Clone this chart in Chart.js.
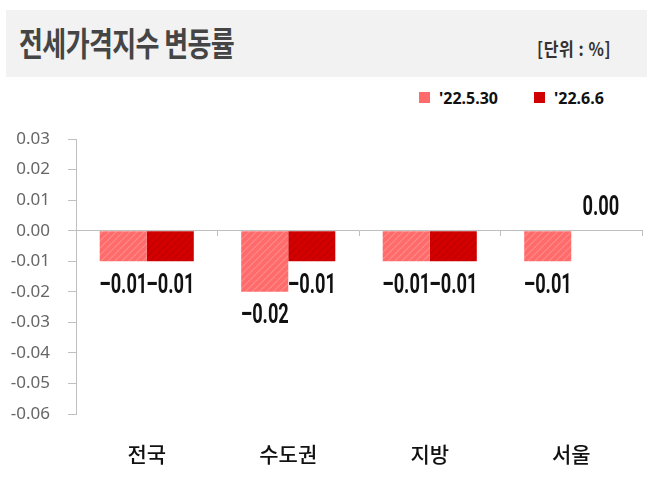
<!DOCTYPE html>
<html>
<head>
<meta charset="utf-8">
<script src="https://cdn.jsdelivr.net/npm/chart.js@4"></script>
<style>
  body { margin: 0; width: 647px; height: 483px; background: #fff; position: relative; overflow: hidden; }
  .band { position: absolute; left: 6px; top: 10px; width: 641px; height: 67px; background: #f2f2f2; }
  .title { position: absolute; left: 19px; top: 26px; font: bold 26px/1 "Noto Sans CJK KR"; color: #454545; letter-spacing: -0.6px; transform: scaleY(1.25); transform-origin: 0 0; }
  .unit { position: absolute; left: 537px; top: 39px; font: bold 16px/1 "Noto Sans CJK KR"; color: #333; letter-spacing: 0.6px; transform: scaleY(1.15); transform-origin: 0 0; }
  .legend { position: absolute; top: 87px; left: 419px; font: bold 16px/18px "Noto Sans"; color: #111; white-space: nowrap; }
  .legend span { display: inline-block; vertical-align: middle; }
  .sw { width: 11px; height: 11px; margin-right: 9px; }
  .wrap { position: absolute; left: 0; top: 110px; width: 647px; height: 373px; }
</style>
</head>
<body>
<div class="band"></div>
<div class="title">전세가격지수 변동률</div>
<div class="unit">[단위 : %]</div>
<div class="legend">
  <span class="sw" style="background:#ff6b6b"></span><span>'22.5.30</span><span style="width:36px"></span><span class="sw" style="background:#d00000"></span><span>'22.6.6</span>
</div>
<div class="wrap"><canvas id="c"></canvas></div>
<script>
// 지역
const categories = ['전국', '수도권', '지방', '서울']
// 시리즈
const seriesNames = ["'22.5.30", "'22.6.6"]
const may30 = [-0.01, -0.02, -0.01, -0.01]
const jun6 = [-0.01, -0.01, -0.01, 0.00]
const yTicks = [0.03, 0.02, 0.01, 0.00, -0.01, -0.02, -0.03, -0.04, -0.05, -0.06]

function hatch(base, stripe) {
  const p = document.createElement('canvas')
  p.width = 7
  p.height = 7
  const g = p.getContext('2d')
  g.fillStyle = base
  g.fillRect(0, 0, 7, 7)
  g.strokeStyle = stripe
  g.lineWidth = 1.2
  g.beginPath()
  g.moveTo(-1, 8); g.lineTo(8, -1)
  g.moveTo(-4, 4); g.lineTo(4, -4)
  g.moveTo(3, 11); g.lineTo(11, 3)
  g.stroke()
  return g.createPattern(p, 'repeat')
}

// 막대 값 라벨 (좁은 글꼴 흉내: 가로로 줄여서 그림)
const barLabels = {
  id: 'barLabels',
  afterDatasetsDraw(chart) {
    const ctx = chart.ctx
    chart.data.datasets.forEach((ds, i) => {
      chart.getDatasetMeta(i).data.forEach((bar, j) => {
        const v = ds.data[j]
        const y = v < 0 ? bar.y + 11 : bar.y - 9
        ctx.save()
        ctx.translate(v < 0 ? bar.x : bar.x + 6, y)
        ctx.scale(0.76, 1.15)
        ctx.font = 'bold 24px Roboto'
        ctx.fillStyle = '#111'
        ctx.textAlign = 'center'
        ctx.textBaseline = v < 0 ? 'top' : 'bottom'
        ctx.fillText(v.toFixed(2).replace('-', '\u2013'), 0, 0)
        ctx.restore()
      })
    })
  }
}

new Chart(document.getElementById('c'), {
  type: 'bar',
  data: {
    labels: categories,
    datasets: [
      { label: seriesNames[0], data: may30, backgroundColor: hatch('#ff6b6b', '#ff8a8a') },
      { label: seriesNames[1], data: jun6, backgroundColor: hatch('#d40000', '#bd0000') }
    ]
  },
  options: {
    responsive: true,
    maintainAspectRatio: false,
    animation: false,
    categoryPercentage: 0.665,
    barPercentage: 1,
    layout: { padding: { top: 29, right: 5, bottom: 0, left: 0 } },
    plugins: { legend: { display: false }, tooltip: { enabled: false } },
    scales: {
      x: {
        position: { y: 0 },
        grid: { offset: true, drawOnChartArea: false, tickLength: 5, color: '#bfbfbf' },
        border: { color: '#bfbfbf' },
        ticks: { display: false }
      },
      xl: {
        type: 'category',
        position: 'bottom',
        grid: { display: false },
        border: { display: false },
        ticks: { color: '#111', font: { family: 'Noto Sans CJK KR', size: 21, weight: '500' }, padding: 19 },
        afterFit(s) { s.height = 69 }
      },
      y: {
        min: -0.06,
        max: 0.03,
        afterBuildTicks(s) { s.ticks = yTicks.map(v => ({ value: v })) },
        afterFit(s) { s.width = 76 },
        grid: { drawOnChartArea: false, tickLength: 8, color: '#bfbfbf' },
        border: { color: '#bfbfbf' },
        ticks: { color: '#666', padding: 18, font: { family: 'Noto Sans', size: 17 }, callback: v => v.toFixed(2) }
      }
    }
  },
  plugins: [barLabels]
})
</script>
</body>
</html>
